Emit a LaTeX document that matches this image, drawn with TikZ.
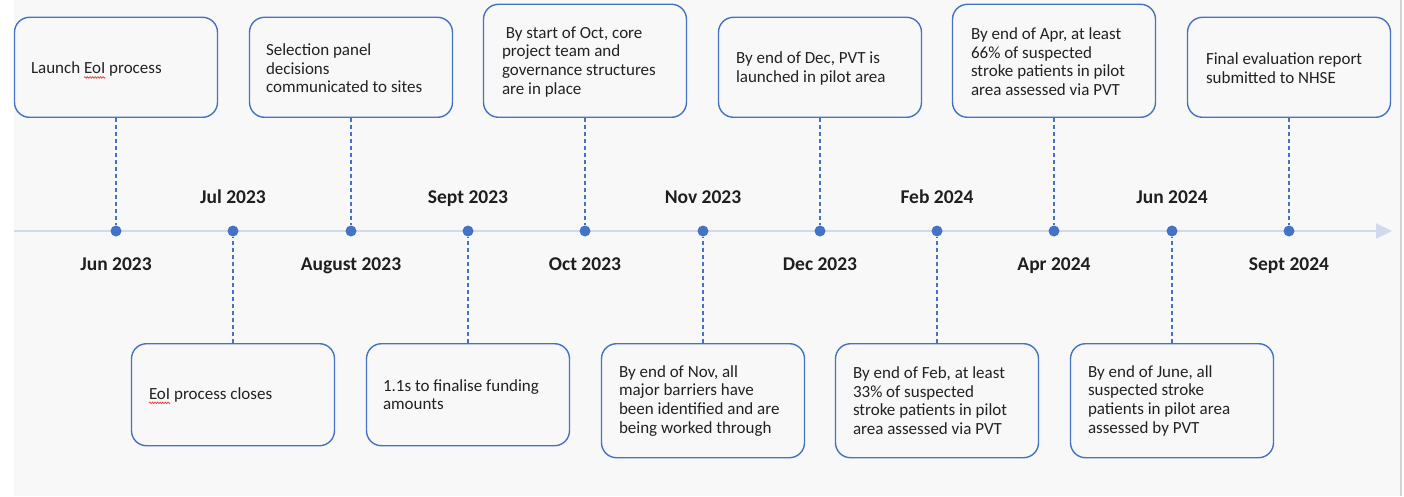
\documentclass[tikz,border=0pt]{standalone}
\usepackage{fontspec}
\setmainfont{Carlito}
\usetikzlibrary{decorations.pathmorphing,arrows.meta}

\definecolor{bg}{HTML}{F8F8F8}
\definecolor{edge}{HTML}{4472C4}
\definecolor{axisc}{HTML}{D3D9EC}
\definecolor{ink}{HTML}{222222}
\definecolor{framec}{HTML}{D2D2D2}
\definecolor{spellc}{HTML}{E0403A}

% wavy red underline under a word
\newcommand{\spellword}[1]{\tikz[overlay,baseline=0pt]\draw[spellline] (0pt,-3.6pt) -- ({width("#1")*1pt},-3.6pt);#1}

\begin{document}
\begin{tikzpicture}[x=1pt,y=1pt,
  box/.style={draw=edge, line width=1.4pt, rounded corners=15pt, fill=bg,
              minimum width=203pt, inner sep=0pt},
  txt/.style={anchor=west, align=left, inner sep=0pt, text=ink,
              font=\fontsize{17}{18.6}\selectfont},
  dot/.style={circle, fill=edge, minimum size=11pt, inner sep=0pt},
  date/.style={font=\bfseries\fontsize{19.5}{22}\selectfont, text=black!88,
               anchor=base, inner sep=0pt},
  link/.style={draw=edge, line width=1.6pt, dash pattern=on 4pt off 3pt},
  spellline/.style={draw=spellc, line width=0.7pt, decorate,
                    decoration={snake, amplitude=0.8pt, segment length=2.6pt}}]

% canvas
\useasboundingbox (0,0) rectangle (1404,496);
\fill[white] (0,0) rectangle (1404,496);
\fill[bg] (14,0) rectangle (1400,496);
\draw[framec, line width=2pt] (1401,0) -- (1401,496);

% time axis
\coordinate (axstart) at (14,265);
\coordinate (axend) at (1392,265);
\draw[axisc, line width=2pt, -{Triangle[length=16pt,width=15pt]}] (axstart) -- (axend);

% milestones on the axis
\foreach \i/\x in {0/116,1/233,2/351,3/468,4/585,5/703,6/820,7/937,8/1054,9/1172,10/1289}
  \node[dot] (d\i) at (\x,265) {};

% month labels
\node[date] (m0)  at ([yshift=-39pt]d0.center)  {Jun 2023};
\node[date] (m1)  at ([yshift=27pt]d1.center)   {Jul 2023};
\node[date] (m2)  at ([yshift=-39pt]d2.center)  {August 2023};
\node[date] (m3)  at ([yshift=27pt]d3.center)   {Sept 2023};
\node[date] (m4)  at ([yshift=-39pt]d4.center)  {Oct 2023};
\node[date] (m5)  at ([yshift=27pt]d5.center)   {Nov 2023};
\node[date] (m6)  at ([yshift=-39pt]d6.center)  {Dec 2023};
\node[date] (m7)  at ([yshift=27pt]d7.center)   {Feb 2024};
\node[date] (m8)  at ([yshift=-39pt]d8.center)  {Apr 2024};
\node[date] (m9)  at ([yshift=27pt]d9.center)   {Jun 2024};
\node[date] (m10) at ([yshift=-39pt]d10.center) {Sept 2024};

% boxes above the axis
\node[box, minimum height=100pt, anchor=south] (b0)  at (116,378)  {};
\node[box, minimum height=100pt, anchor=south] (b2)  at (351,378)  {};
\node[box, minimum height=113pt, anchor=south] (b4)  at (585,378)  {};
\node[box, minimum height=100pt, anchor=south] (b6)  at (820,378)  {};
\node[box, minimum height=113pt, anchor=south] (b8)  at (1054,378) {};
\node[box, minimum height=100pt, anchor=south] (b10) at (1289,378) {};

% boxes below the axis
\node[box, minimum height=102pt, anchor=north] (b1) at (233,153)  {};
\node[box, minimum height=102pt, anchor=north] (b3) at (468,153)  {};
\node[box, minimum height=114pt, anchor=north] (b5) at (703,153)  {};
\node[box, minimum height=114pt, anchor=north] (b7) at (937,153)  {};
\node[box, minimum height=114pt, anchor=north] (b9) at (1172,153) {};

% box texts
\node[txt] (t0)  at ([xshift=17pt,yshift=-2pt]b0.west)  {Launch \spellword{EoI} process};
\node[txt] (t2)  at ([xshift=17pt,yshift=-1pt]b2.west)  {Selection panel\\decisions\\communicated to sites};
\node[txt] (t4)  at ([xshift=19pt,yshift=-1pt]b4.west)  {\hspace*{3.8pt}By start of Oct, core\\project team and\\governance structures\\are in place};
\node[txt] (t6)  at ([xshift=18pt,yshift=-1pt]b6.west)  {By end of Dec, PVT is\\launched in pilot area};
\node[txt] (t8)  at ([xshift=19pt,yshift=-1pt]b8.west)  {By end of Apr, at least\\66\% of suspected\\stroke patients in pilot\\area assessed via PVT};
\node[txt] (t10) at ([xshift=19pt,yshift=-1pt]b10.west) {Final evaluation report\\submitted to NHSE};
\node[txt] (t1)  at ([xshift=18pt]b1.west)  {\spellword{EoI} process closes};
\node[txt] (t3)  at ([xshift=17pt]b3.west)  {1.1s to finalise funding\\amounts};
\node[txt] (t5)  at ([xshift=18pt]b5.west)  {By end of Nov, all\\major barriers have\\been identified and are\\being worked through};
\node[txt] (t7)  at ([xshift=18pt]b7.west)  {By end of Feb, at least\\33\% of suspected\\stroke patients in pilot\\area assessed via PVT};
\node[txt] (t9)  at ([xshift=18pt]b9.west)  {By end of June, all\\suspected stroke\\patients in pilot area\\assessed by PVT};

% dashed leaders from boxes to milestones
\foreach \i in {0,...,10}
  \draw[link] (b\i) -- (d\i);

\end{tikzpicture}
\end{document}
